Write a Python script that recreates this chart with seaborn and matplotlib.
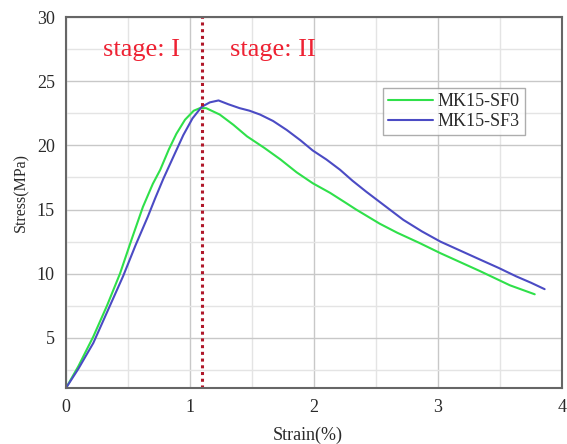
import numpy as np
import pandas as pd
import matplotlib
matplotlib.use("Agg")
import matplotlib.pyplot as plt
import seaborn as sns
from matplotlib.ticker import MultipleLocator

# Data
sf0_strain = [0.0, 0.10, 0.22, 0.33, 0.435, 0.53, 0.62, 0.70, 0.76, 0.83, 0.89, 0.96, 1.03, 1.08, 1.13, 1.24,
              1.35, 1.46, 1.60, 1.73, 1.86, 1.99, 2.13, 2.26, 2.34, 2.53, 2.67, 2.85, 3.02, 3.18, 3.34, 3.46,
              3.58, 3.68, 3.78]
sf0_stress = [1.1, 2.8, 5.1, 7.5, 10.0, 12.7, 15.2, 17.0, 18.1, 19.7, 20.9, 22.0, 22.7, 22.9, 22.9, 22.4,
              21.6, 20.7, 19.8, 18.9, 17.9, 17.05, 16.3, 15.5, 15.0, 13.9, 13.2, 12.4, 11.6, 10.9, 10.2, 9.65,
              9.1, 8.75, 8.4]
sf3_strain = [0.0, 0.10, 0.22, 0.34, 0.46, 0.56, 0.66, 0.72, 0.785, 0.87, 0.946, 1.02, 1.094, 1.16, 1.23,
              1.31, 1.40, 1.48, 1.565, 1.67, 1.78, 1.89, 1.99, 2.10, 2.21, 2.31, 2.42, 2.57, 2.72, 2.87,
              3.02, 3.18, 3.34, 3.49, 3.63, 3.75, 3.86]
sf3_stress = [1.1, 2.6, 4.6, 7.2, 9.8, 12.2, 14.45, 15.9, 17.4, 19.2, 20.8, 22.1, 23.0, 23.35, 23.5,
              23.2, 22.9, 22.7, 22.4, 21.9, 21.2, 20.4, 19.6, 18.9, 18.1, 17.25, 16.4, 15.3, 14.2, 13.3,
              12.5, 11.8, 11.1, 10.45, 9.8, 9.3, 8.8]
series_names = ["MK15-SF0", "MK15-SF3"]
x_ticks = [0, 1, 2, 3, 4]
y_ticks = [5, 10, 15, 20, 25, 30]
divider_strain = 1.1
stage_labels = ["stage: I", "stage: II"]

df = pd.concat([
    pd.DataFrame({"strain": sf0_strain, "stress": sf0_stress, "series": series_names[0]}),
    pd.DataFrame({"strain": sf3_strain, "stress": sf3_stress, "series": series_names[1]}),
], ignore_index=True)

sns.set_style("white")
plt.rcParams["font.family"] = ["Liberation Serif", "DejaVu Serif"]

fig = plt.figure(figsize=(5.67, 4.44), dpi=100)
ax = fig.add_axes([66 / 567, 56 / 444, 496 / 567, 371 / 444])

ax.set_xlim(0, 4)
ax.set_ylim(1.1, 30)
ax.xaxis.set_minor_locator(MultipleLocator(0.5))
ax.yaxis.set_minor_locator(MultipleLocator(2.5))
ax.grid(True, which="major", color="#c8c8c8", linewidth=1.0)
ax.grid(True, which="minor", color="#e4e4e4", linewidth=1.0)
ax.set_axisbelow(True)

sns.lineplot(data=df, x="strain", y="stress", hue="series", sort=False,
             palette={series_names[0]: "#2fe04a", series_names[1]: "#4b4bc4"},
             linewidth=1.5, ax=ax, legend=True)

ax.axvline(divider_strain, color="#b0182a", linestyle=(0, (1, 1.2)), linewidth=2.2)

ax.text(0.61, 27.4, stage_labels[0], color="#ee2233", fontsize=19, ha="center", va="center")
ax.text(1.67, 27.4, stage_labels[1], color="#ee2233", fontsize=19, ha="center", va="center")

ax.set_xticks(x_ticks)
ax.set_yticks(y_ticks)
ax.tick_params(axis="both", which="both", length=0, labelsize=13, colors="#2a2a2a", pad=8)
ax.set_xlabel("Strain(%)", fontsize=13, color="#2a2a2a")
ax.set_ylabel("Stress(MPa)", fontsize=11.5, color="#2a2a2a")
ax.xaxis.set_label_coords(0.488, -0.105)
ax.yaxis.set_label_coords(-0.075, 0.526)

for s in ax.spines.values():
    s.set_visible(True)
    s.set_color("#666666")
    s.set_linewidth(1.5)

leg = ax.legend(loc="upper left", bbox_to_anchor=(0.639, 0.809), fontsize=13,
                frameon=True, fancybox=False, edgecolor="#999999", handlelength=2.5,
                borderpad=0.3, labelspacing=0.15, handletextpad=0.2, borderaxespad=0)
leg.get_frame().set_linewidth(1.0)
for t in leg.get_texts():
    t.set_color("#2a2a2a")

fig.savefig("out.png", dpi=100)
